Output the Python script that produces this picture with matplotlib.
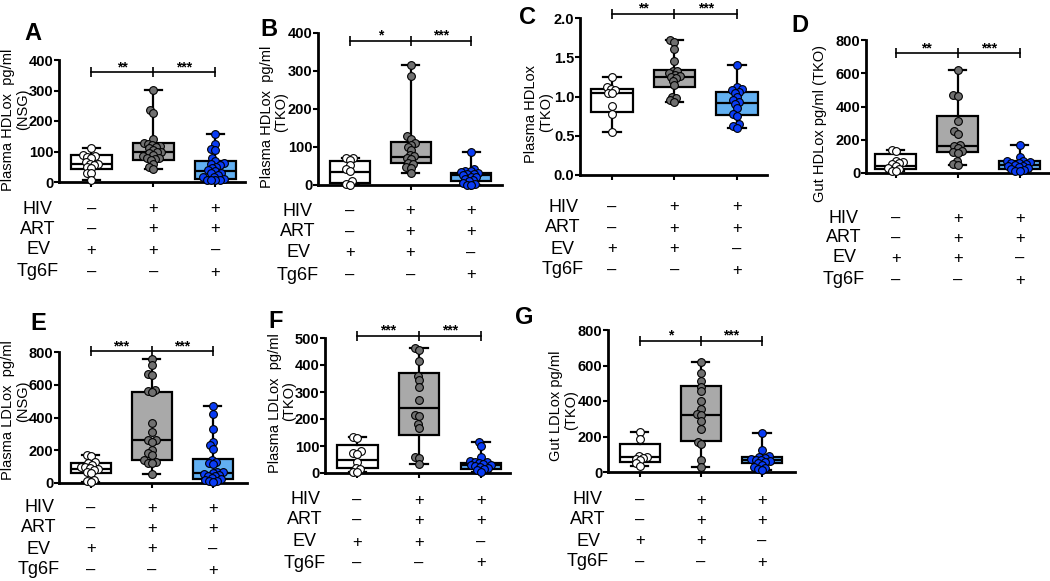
import numpy as np
import matplotlib
matplotlib.use('Agg')
import matplotlib.pyplot as plt

# figure size in pixels
W, H = 1050, 581

# ---- data: points per group (white = EV, grey = HIV+ART+EV, blue = HIV+ART+Tg6F) ----
A_white = [112, 88, 85, 82, 80, 65, 60, 58, 55, 50, 45, 30, 28, 5]
A_grey = [302, 235, 225, 140, 128, 125, 120, 118, 115, 110, 105, 100, 98, 95, 90, 85, 80, 78, 75, 72, 60, 50, 44]
A_blue = [158, 125, 108, 105, 78, 68, 62, 58, 55, 50, 45, 38, 35, 30, 28, 22, 18, 15, 10, 8, 6, 5, 5]

B_white = [72, 70, 65, 52, 42, 38, 10, 2, 0]
B_grey = [316, 288, 128, 122, 110, 105, 100, 92, 80, 75, 72, 68, 58, 55, 48, 45, 31]
B_blue = [88, 42, 38, 36, 35, 32, 30, 28, 25, 22, 20, 15, 12, 10, 5, 2, 0, 0]

C_white = [1.25, 1.12, 1.10, 1.08, 1.05, 1.04, 0.88, 0.78, 0.55]
C_grey = [1.72, 1.70, 1.60, 1.45, 1.33, 1.32, 1.30, 1.28, 1.26, 1.25, 1.23, 1.20, 1.15, 1.00, 0.98, 0.95, 0.93]
C_blue = [1.40, 1.12, 1.10, 1.08, 1.06, 1.05, 1.00, 0.95, 0.93, 0.90, 0.85, 0.78, 0.75, 0.65, 0.62, 0.60]

D_white = [140, 135, 75, 65, 60, 55, 45, 30, 25, 15, 10]
D_grey = [620, 470, 465, 310, 250, 235, 170, 160, 150, 130, 125, 120, 75, 55, 50]
D_blue = [167, 95, 75, 70, 65, 62, 60, 55, 50, 45, 40, 35, 30, 25, 20, 15, 10]

E_white = [170, 165, 130, 120, 110, 100, 95, 90, 85, 80, 70, 60, 20, 10, 5]
E_grey = [755, 720, 665, 660, 570, 560, 555, 365, 310, 260, 260, 250, 200, 185, 170, 140, 130, 125, 120, 57]
E_blue = [468, 420, 330, 250, 230, 210, 140, 130, 120, 115, 70, 65, 60, 55, 50, 45, 40, 30, 25, 20, 15, 10, 5]

F_white = [135, 130, 80, 75, 70, 40, 20, 15, 5, 2]
F_grey = [463, 455, 415, 360, 345, 320, 270, 215, 210, 180, 165, 60, 55, 35]
F_blue = [115, 100, 60, 45, 42, 40, 38, 35, 30, 28, 25, 22, 18, 15, 10, 5]

G_white = [225, 185, 90, 85, 80, 75, 65, 50, 35]
G_grey = [620, 555, 515, 480, 455, 400, 355, 325, 320, 285, 240, 170, 155, 65, 30]
G_blue = [222, 125, 90, 85, 80, 75, 70, 65, 60, 55, 50, 40, 30, 25, 15, 10]

# box stats per group: (whisker low, q1, median, q3, whisker high)
A_stats = [(5, 42, 58, 90, 112), (44, 72, 100, 128, 302), (5, 10, 36, 70, 158)]
B_stats = [(0, 5, 35, 62, 72), (31, 57, 73, 113, 316), (0, 10, 25, 32, 88)]
C_stats = [(0.55, 0.80, 1.04, 1.10, 1.25), (0.93, 1.12, 1.25, 1.34, 1.72), (0.60, 0.77, 0.92, 1.06, 1.40)]
D_stats = [(10, 22, 40, 113, 140), (50, 125, 165, 342, 620), (10, 26, 46, 70, 167)]
E_stats = [(5, 60, 85, 120, 170), (57, 140, 261, 556, 755), (5, 25, 61, 149, 468)]
F_stats = [(2, 20, 47, 102, 135), (35, 140, 239, 372, 463), (5, 15, 30, 38, 115)]
G_stats = [(35, 55, 85, 158, 225), (30, 172, 322, 486, 620), (10, 50, 65, 85, 222)]

# significance stars (group1 vs 2, group2 vs 3)
A_stars = ['**', '***']
B_stars = ['*', '***']
C_stars = ['**', '***']
D_stars = ['**', '***']
E_stars = ['***', '***']
F_stars = ['***', '***']
G_stars = ['*', '***']

row_names = ['HIV', 'ART', 'EV', 'Tg6F']
row_signs = [['–', '+', '+'], ['–', '+', '+'], ['+', '+', '–'], ['–', '–', '+']]

face = ['white', '#a9a9a9', '#62b0f2']
dots = ['white', '#707070', '#0a3cf5']

plt.rcParams['font.family'] = ['Liberation Sans', 'DejaVu Sans']
fig = plt.figure(figsize=(W / 100, H / 100), dpi=100)


def fx(x):
    return x / W


def fy(y):
    return 1 - y / H


def swarm(vals, ppy, ppx, d, lim):
    # simple beeswarm: place each point at the nearest free x offset
    order = np.argsort(vals)
    placed = []
    offs = np.zeros(len(vals))
    for i in order:
        y = vals[i] * ppy
        cands = [0.0]
        for xp, yp in placed:
            dy = abs(y - yp)
            if dy < d:
                dx = np.sqrt(d * d - dy * dy)
                cands += [xp - dx, xp + dx]
        cands.sort(key=abs)
        for c in cands:
            if all((c - xp) ** 2 + (y - yp) ** 2 >= d * d - 1e-6 for xp, yp in placed):
                break
        c = max(-lim * ppx, min(lim * ppx, c))
        placed.append((c, y))
        offs[i] = c / ppx
    return offs


def panel(rect, xlim, ymax, ystep, groups, stats, stars, bracket_y, fmt,
          letter, ylabels, table_x, rows_y):
    left, right, top, bottom = rect
    ax = fig.add_axes([fx(left), fy(bottom), (right - left) / W, (bottom - top) / H])
    ax.set_xlim(*xlim)
    ax.set_ylim(0, ymax)
    ppy = (bottom - top) / ymax
    ppx = (right - left) / (xlim[1] - xlim[0])

    bstats = [dict(whislo=s[0], q1=s[1], med=s[2], q3=s[3], whishi=s[4]) for s in stats]
    bp = ax.bxp(bstats, positions=[0, 1, 2], widths=0.66, patch_artist=True,
                showfliers=False, capwidths=0.28,
                boxprops=dict(linewidth=1.6, edgecolor='black'),
                medianprops=dict(color='black', linewidth=1.6),
                whiskerprops=dict(color='black', linewidth=1.6),
                capprops=dict(color='black', linewidth=1.6))
    for patch, c in zip(bp['boxes'], face):
        patch.set_facecolor(c)

    for k, vals in enumerate(groups):
        vals = np.array(vals, dtype=float)
        off = swarm(vals, ppy, ppx, 4.3, 0.4)
        ax.plot(k + off, vals, 'o', ms=5.6, mfc=dots[k], mec='black', mew=0.8,
                ls='', clip_on=False, zorder=4)

    # significance bracket
    ax.plot([0, 2], [bracket_y, bracket_y], color='black', lw=1.2, clip_on=False)
    ax.plot([0, 1, 2], [bracket_y] * 3, ls='', marker='|', ms=7, mew=1.2,
            color='black', clip_on=False)
    for k, s in enumerate(stars):
        ax.text(k + 0.5, bracket_y + 5 / ppy, s, ha='center', va='center',
                fontsize=10, fontweight='bold', clip_on=False)

    for side in ['top', 'right']:
        ax.spines[side].set_visible(False)
    for side in ['left', 'bottom']:
        ax.spines[side].set_linewidth(2)
    ticks = np.arange(0, ymax + ystep / 2, ystep)
    ax.set_yticks(ticks)
    ax.set_yticklabels([fmt.format(v) for v in ticks], fontweight='bold', fontsize=10.5)
    ax.set_xticks([0, 1, 2])
    ax.set_xticklabels([])
    ax.tick_params(axis='both', length=3.5, width=1.5, pad=0.5)

    fig.text(fx(letter[1]), fy(letter[2]), letter[0], fontsize=17, fontweight='bold',
             ha='center', va='center')
    for txt, x, y in ylabels:
        fig.text(fx(x), fy(y), txt, rotation=90, fontsize=10.5, ha='center', va='center')

    # condition table under the axis
    gx = [left + (k - xlim[0]) * ppx for k in range(3)]
    for name, signs, y in zip(row_names, row_signs, rows_y):
        fig.text(fx(table_x), fy(y), name, fontsize=13, ha='center', va='center')
        for x, s in zip(gx, signs):
            fig.text(fx(x), fy(y), s, fontsize=12, ha='center', va='center')
    return ax


panel((59, 245, 60, 182), (-0.52, 2.48), 400, 100, [A_white, A_grey, A_blue], A_stats,
      A_stars, 360, '{:.0f}', ('A', 33, 33),
      [('Plasma HDLox  pg/ml', 8, 120), ('(NSG)', 23, 109)], 38, [209, 229, 250, 272])
panel((318, 502, 33, 185), (-0.53, 2.51), 400, 100, [B_white, B_grey, B_blue], B_stats,
      B_stars, 380, '{:.0f}', ('B', 269, 30),
      [('Plasma HDLox  pg/ml', 267, 117), ('(TKO)', 281, 112)], 298, [211, 232, 253, 275])
panel((580, 767, 18, 175), (-0.51, 2.48), 2.0, 0.5, [C_white, C_grey, C_blue], C_stats,
      C_stars, 2.055, '{:.1f}', ('C', 527, 17),
      [('Plasma HDLox', 531, 114), ('(TKO)', 546, 112)], 563, [207, 228, 249, 270])
panel((866, 1050, 40, 173), (-0.48, 2.49), 800, 200, [D_white, D_grey, D_blue], D_stats,
      D_stars, 720, '{:.0f}', ('D', 800, 25),
      [('Gut HDLox pg/ml (TKO)', 820, 124)], 844, [218, 238, 258, 280])
panel((59, 247, 352, 483), (-0.52, 2.56), 800, 200, [E_white, E_grey, E_blue], E_stats,
      E_stars, 806, '{:.0f}', ('E', 38, 323),
      [('Plasma LDLox  pg/ml', 8, 410), ('(NSG)', 23, 401)], 39, [508, 528, 549, 570])
panel((325, 510, 338, 473), (-0.52, 2.47), 500, 100, [F_white, F_grey, F_blue], F_stats,
      F_stars, 509, '{:.0f}', ('F', 276, 322),
      [('Plasma LDLox  pg/ml', 275, 403), ('(TKO)', 289, 401)], 305, [500, 520, 542, 563])
panel((608, 795, 330, 472), (-0.52, 2.54), 800, 200, [G_white, G_grey, G_blue], G_stats,
      G_stars, 740, '{:.0f}', ('G', 524, 318),
      [('Gut LDLox pg/ml', 556, 406), ('(TKO)', 571, 410)], 588, [500, 520, 541, 562])

fig.savefig('out.png', dpi=100)
